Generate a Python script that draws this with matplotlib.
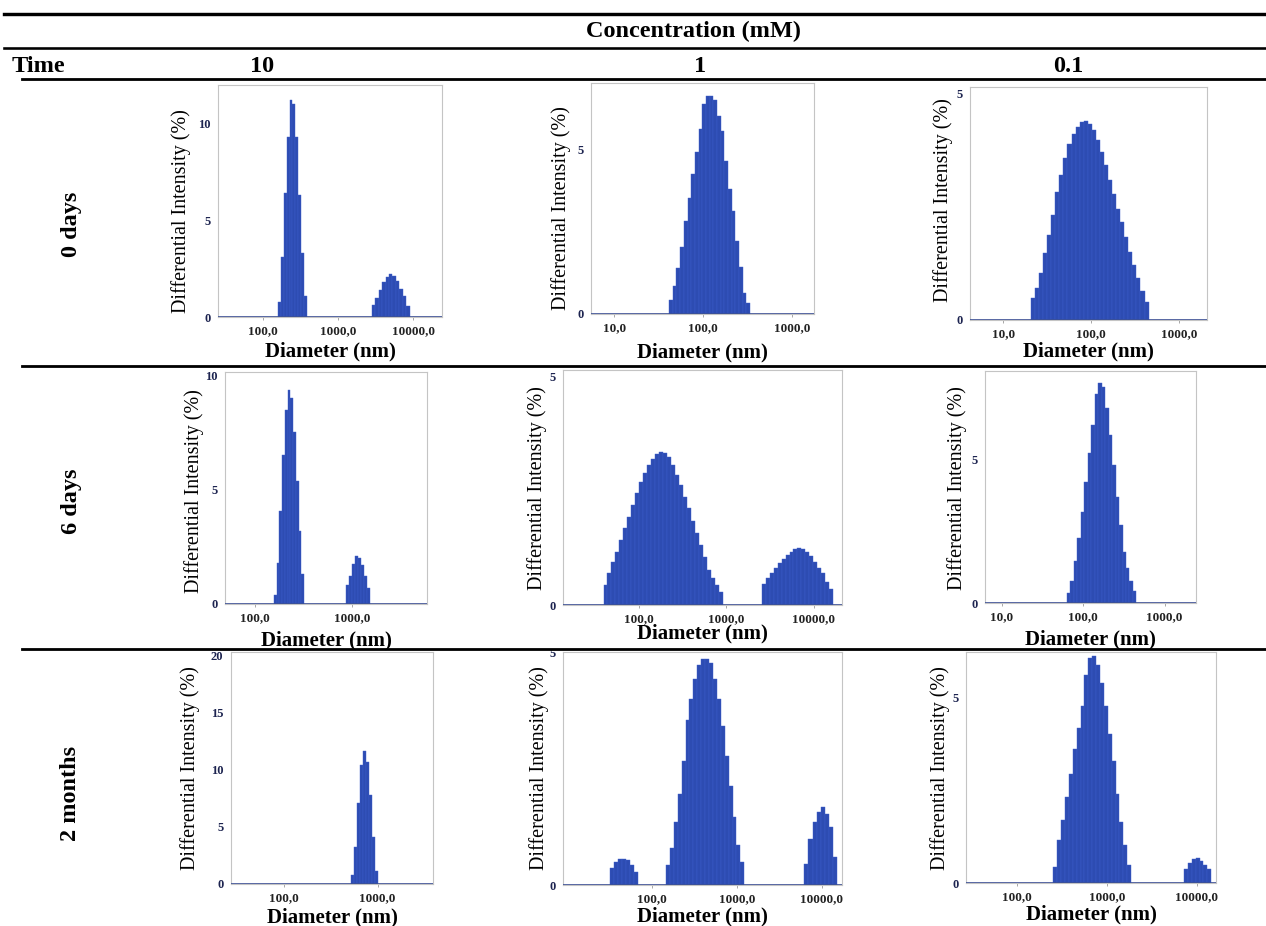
import numpy as np
import matplotlib
matplotlib.use("Agg")
import matplotlib.pyplot as plt
from matplotlib.lines import Line2D
from matplotlib.ticker import NullLocator

W, H = 1266, 926

# --- data (bin centre in nm, intensity in %) ---
# 0 days, 10 mM
d_0d_10_a = [165, 180, 197, 215, 234, 256, 279, 304, 332, 362]
h_0d_10_a = [0.8, 3.1, 6.4, 9.3, 11.2, 11.0, 9.3, 6.3, 3.3, 1.1]
d_0d_10_b = [2940, 3270, 3630, 4030, 4480, 4980, 5530, 6150, 6830, 7590, 8430]
h_0d_10_b = [0.64, 1.0, 1.4, 1.8, 2.05, 2.2, 2.1, 1.85, 1.45, 1.07, 0.55]
# 0 days, 1 mM
d_0d_1 = [43.6, 47.9, 52.7, 58.0, 63.8, 70.2, 77.2, 84.9, 93.4, 102.7, 113, 124,
          137, 150, 165, 182, 200, 220, 242, 266, 293, 322]
h_0d_1 = [0.41, 0.84, 1.40, 2.03, 2.82, 3.53, 4.24, 4.90, 5.60, 6.37, 6.62, 6.62,
          6.47, 6.01, 5.56, 4.64, 3.78, 3.12, 2.21, 1.42, 0.64, 0.33]
# 0 days, 0.1 mM
d_0d_01 = [21.8, 24.3, 27.0, 30.0, 33.4, 37.1, 41.3, 45.9, 51.0, 56.7, 63.1, 70.2,
           78.0, 86.8, 96.5, 107, 119, 133, 148, 164, 183, 203, 226, 251, 279, 310,
           345, 384, 427]
h_0d_01 = [0.49, 0.70, 1.03, 1.47, 1.88, 2.32, 2.83, 3.20, 3.57, 3.90, 4.12, 4.26,
           4.38, 4.39, 4.34, 4.19, 3.97, 3.71, 3.42, 3.09, 2.79, 2.46, 2.17, 1.84,
           1.51, 1.21, 0.92, 0.63, 0.40]
# 6 days, 10 mM
d_6d_10_a = [161, 172, 183, 196, 209, 223, 239, 255, 272, 291, 310]
h_6d_10_a = [0.38, 1.79, 4.09, 6.54, 8.49, 9.36, 9.01, 7.51, 5.40, 3.19, 1.33]
d_6d_10_b = [901, 965, 1034, 1107, 1186, 1270, 1360, 1457]
h_6d_10_b = [0.82, 1.22, 1.76, 2.10, 2.01, 1.72, 1.22, 0.70]
# 6 days, 1 mM
d_6d_1_a = [41.9, 46.5, 51.7, 57.3, 63.6, 70.6, 78.4, 87.0, 96.6, 107, 119, 132,
            147, 163, 181, 201, 223, 247, 274, 305, 338, 375, 416, 462, 513, 569,
            632, 701, 779, 864]
h_6d_1_a = [0.44, 0.69, 0.95, 1.17, 1.42, 1.68, 1.93, 2.19, 2.45, 2.69, 2.88, 3.07,
            3.20, 3.30, 3.34, 3.32, 3.23, 3.07, 2.85, 2.63, 2.37, 2.12, 1.84, 1.57,
            1.31, 1.04, 0.77, 0.58, 0.44, 0.29]
d_6d_1_b = [2710, 3000, 3330, 3690, 4090, 4540, 5040, 5580, 6190, 6870, 7620, 8450,
            9370, 10390, 11520, 12780, 14170, 15710]
h_6d_1_b = [0.47, 0.58, 0.69, 0.80, 0.91, 1.01, 1.09, 1.17, 1.22, 1.24, 1.23, 1.17,
            1.07, 0.95, 0.82, 0.69, 0.51, 0.35]
# 6 days, 0.1 mM
d_6d_01 = [66.3, 73.1, 80.6, 88.9, 98.1, 108, 119, 132, 146, 161, 177, 196, 216,
           238, 263, 290, 320, 353, 389, 429]
h_6d_01 = [0.35, 0.75, 1.45, 2.26, 3.18, 4.22, 5.21, 6.19, 7.26, 7.64, 7.52, 6.77,
           5.84, 4.80, 3.70, 2.72, 1.79, 1.22, 0.75, 0.41]
# 2 months, 10 mM
d_2m_10 = [538, 579, 623, 671, 722, 777, 836, 899, 968]
h_2m_10 = [0.81, 3.27, 7.11, 10.4, 11.65, 10.7, 7.8, 4.13, 1.18]
# 2 months, 1 mM
d_2m_1_a = [33.5, 37.3, 41.6, 46.4, 51.7, 57.7, 64.3]
h_2m_1_a = [0.36, 0.50, 0.55, 0.57, 0.54, 0.43, 0.29]
d_2m_1_b = [154, 171, 190, 212, 235, 262, 291, 324, 360, 400, 445, 495, 550, 612,
            680, 757, 841, 936, 1040, 1157]
h_2m_1_b = [0.43, 0.79, 1.36, 1.96, 2.68, 3.56, 4.0, 4.43, 4.75, 4.86, 4.87, 4.79,
            4.43, 4.0, 3.43, 2.79, 2.14, 1.46, 0.86, 0.50]
d_2m_1_c = [6550, 7330, 8200, 9180, 10270, 11490, 12860, 14390]
h_2m_1_c = [0.46, 1.0, 1.36, 1.57, 1.68, 1.54, 1.25, 0.61]
# 2 months, 0.1 mM
d_2m_01_a = [265, 293, 323, 357, 395, 436, 482, 533, 589, 651, 719, 794, 878, 970,
             1072, 1184, 1309, 1446, 1598, 1766]
h_2m_01_a = [0.42, 1.16, 1.70, 2.32, 2.95, 3.62, 4.20, 4.78, 5.63, 6.07, 6.12, 5.89,
             5.40, 4.78, 4.02, 3.30, 2.41, 1.65, 1.03, 0.49]
d_2m_01_b = [7650, 8430, 9300, 10260, 11320, 12480, 13770]
h_2m_01_b = [0.38, 0.54, 0.64, 0.67, 0.60, 0.49, 0.38]

times = ["0 days", "6 days", "2 months"]
concentrations = ["10", "1", "0.1"]

peaks = {
    (0, 0): [(d_0d_10_a, h_0d_10_a), (d_0d_10_b, h_0d_10_b)],
    (0, 1): [(d_0d_1, h_0d_1)],
    (0, 2): [(d_0d_01, h_0d_01)],
    (1, 0): [(d_6d_10_a, h_6d_10_a), (d_6d_10_b, h_6d_10_b)],
    (1, 1): [(d_6d_1_a, h_6d_1_a), (d_6d_1_b, h_6d_1_b)],
    (1, 2): [(d_6d_01, h_6d_01)],
    (2, 0): [(d_2m_10, h_2m_10)],
    (2, 1): [(d_2m_1_a, h_2m_1_a), (d_2m_1_b, h_2m_1_b), (d_2m_1_c, h_2m_1_c)],
    (2, 2): [(d_2m_01_a, h_2m_01_a), (d_2m_01_b, h_2m_01_b)],
}

# panel layout in pixels: box (left, top, right, bottom), axis ranges, ticks,
# ylabel centre (x, y) and xlabel distance below the axis
layout = {
    (0, 0): dict(box=(218, 85, 442, 317), xlim=(25, 24000), ytop=12.0,
                 yt=[0, 5, 10], xt=[100, 1000, 10000], ylab=(181, 211), xoff=34),
    (0, 1): dict(box=(591, 83, 814, 314), xlim=(5.5, 1770), ytop=7.0,
                 yt=[0, 5], xt=[10, 100, 1000], ylab=(561, 208), xoff=38),
    (0, 2): dict(box=(970, 87, 1207, 320), xlim=(4.18, 2080), ytop=5.15,
                 yt=[0, 5], xt=[10, 100, 1000], ylab=(943, 200), xoff=31),
    (1, 0): dict(box=(225, 372, 427, 604), xlim=(49.2, 5850), ytop=10.15,
                 yt=[0, 5, 10], xt=[100, 1000], ylab=(194, 491), xoff=36),
    (1, 1): dict(box=(563, 370, 842, 605), xlim=(13.7, 21100), ytop=5.14,
                 yt=[0, 5], xt=[100, 1000, 10000], ylab=(537, 488), xoff=28),
    (1, 2): dict(box=(985, 371, 1196, 603), xlim=(6.24, 2430), ytop=8.07,
                 yt=[0, 5], xt=[10, 100, 1000], ylab=(957, 488), xoff=36),
    (2, 0): dict(box=(231, 652, 433, 884), xlim=(26.9, 3930), ytop=20.3,
                 yt=[0, 5, 10, 15, 20], xt=[100, 1000], ylab=(190, 768), xoff=33),
    (2, 1): dict(box=(563, 652, 842, 885), xlim=(8.97, 17200), ytop=5.02,
                 yt=[0, 5], xt=[100, 1000, 10000], ylab=(539, 768), xoff=31),
    (2, 2): dict(box=(966, 652, 1216, 883), xlim=(26.8, 16400), ytop=6.24,
                 yt=[0, 5], xt=[100, 1000, 10000], ylab=(940, 768), xoff=31),
}

BAR = "#2d4cb2"
EDGE = "#3d5fcc"
FRAME = "#c4c4c4"


def bar_edges(d):
    """Bin edges halfway (in log) between neighbouring bin centres."""
    lg = np.log10(np.asarray(d, float))
    mid = (lg[1:] + lg[:-1]) / 2
    e = np.concatenate([[2 * lg[0] - mid[0]], mid, [2 * lg[-1] - mid[-1]]])
    return 10 ** e


def fx(x):
    return x / W


def fy(y):
    return 1 - y / H


def draw_panel(fig, key):
    cfg = layout[key]
    L, T, R, B = cfg["box"]
    ax = fig.add_axes([fx(L), fy(B), (R - L) / W, (B - T) / H])
    ax.set_xscale("log")
    for d, h in peaks[key]:
        e = bar_edges(d)
        ax.bar(e[:-1], h, width=np.diff(e), align="edge", color=BAR,
               edgecolor=EDGE, linewidth=0.3, zorder=2)
    ax.axhline(0, color="#3b4f94", lw=1.2, zorder=3)
    ax.set_xlim(*cfg["xlim"])
    ax.set_ylim(0, cfg["ytop"])

    ax.set_xticks(cfg["xt"])
    ax.set_xticklabels([f"{v:.1f}".replace(".", ",") for v in cfg["xt"]],
                       fontweight="bold")
    ax.xaxis.set_minor_locator(NullLocator())
    ax.set_yticks(cfg["yt"])
    ax.set_yticklabels([str(v) for v in cfg["yt"]], fontweight="bold")
    ax.tick_params(axis="x", length=2, width=0.6, color="#999999", pad=4,
                   labelsize=9.5, labelcolor="#222222")
    ax.tick_params(axis="y", length=0, pad=5.5, labelsize=9, labelcolor="#1d2450")
    for sp in ax.spines.values():
        sp.set_color(FRAME)
        sp.set_linewidth(0.8)

    ax.set_xlabel("Diameter (nm)", fontsize=15, fontweight="bold")
    ax.xaxis.set_label_coords(0.5, -cfg["xoff"] / (B - T))
    ax.xaxis.label.set_va("center")
    ax.set_ylabel("Differential Intensity (%)", fontsize=14.5)
    lx, ly = cfg["ylab"]
    ax.yaxis.set_label_coords((lx - L) / (R - L), (B - ly) / (B - T))
    ax.yaxis.label.set_va("center")
    ax.yaxis.label.set_ha("center")
    return ax


def main():
    plt.rcParams["font.family"] = ["Liberation Serif", "DejaVu Serif"]
    fig = plt.figure(figsize=(W / 100, H / 100), dpi=100)

    # table rules
    for y, x0, lw in [(14, 4, 3.4), (48, 4, 2.6), (79, 22, 2.8), (366, 22, 2.8),
                      (649, 22, 2.8)]:
        fig.add_artist(Line2D([fx(x0), 1], [fy(y), fy(y)], color="black",
                              lw=lw * 0.72, transform=fig.transFigure))

    head = dict(fontsize=17.5, fontweight="bold", va="center")
    fig.text(fx(693), fy(31), "Concentration (mM)", ha="center", **head)
    fig.text(fx(12), fy(66), "Time", ha="left", **head)
    for x, c in zip([262, 700, 1068], concentrations):
        fig.text(fx(x), fy(66), c, ha="center", **head)
    for y, t in zip([224, 501, 793], times):
        fig.text(fx(71), fy(y), t, ha="center", rotation=90, **head)

    for key in layout:
        draw_panel(fig, key)

    fig.savefig("out.png", dpi=100)


if __name__ == "__main__":
    main()
